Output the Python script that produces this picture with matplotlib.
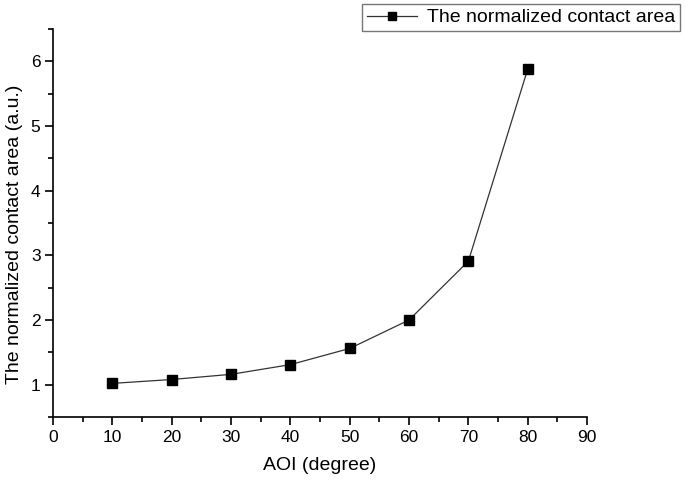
import matplotlib
matplotlib.use("Agg")
import matplotlib.pyplot as plt
from matplotlib.ticker import MultipleLocator

aoi = [10, 20, 30, 40, 50, 60, 70, 80]
area = [1.02, 1.08, 1.16, 1.31, 1.56, 2.00, 2.91, 5.88]

plt.rcParams["font.family"] = ["Liberation Sans", "DejaVu Sans"]

fig = plt.figure(figsize=(6.85, 4.87), dpi=100)
ax = fig.add_axes([0.0774, 0.1437, 0.7796, 0.7968])

ax.plot(aoi, area, color="#333333", linewidth=0.9, marker="s",
        markersize=7, markerfacecolor="black", markeredgecolor="black",
        label="The normalized contact area")

ax.set_xlim(0, 90)
ax.set_ylim(0.5, 6.5)
ax.xaxis.set_major_locator(MultipleLocator(10))
ax.xaxis.set_minor_locator(MultipleLocator(5))
ax.yaxis.set_major_locator(MultipleLocator(1))
ax.yaxis.set_minor_locator(MultipleLocator(0.5))

for side in ("top", "right"):
    ax.spines[side].set_visible(False)
for side in ("left", "bottom"):
    ax.spines[side].set_linewidth(1.2)

ax.tick_params(which="major", direction="out", length=6, width=1.2,
               labelsize=12.5, pad=3)
ax.tick_params(which="minor", direction="out", length=3.5, width=1.2)

ax.set_xlabel("AOI (degree)", fontsize=14)
ax.xaxis.set_label_coords(0.5, -0.125)
ax.xaxis.label.set_verticalalignment("center")
ax.set_ylabel("The normalized contact area (a.u.)", fontsize=14)
ax.yaxis.set_label_coords(-0.072, 0.47)
ax.yaxis.label.set_verticalalignment("center")

leg = ax.legend(loc="upper right", bbox_to_anchor=(0.993, 0.992),
                bbox_transform=fig.transFigure, fontsize=14, frameon=True,
                fancybox=False, borderpad=0.25, handlelength=2.6,
                handletextpad=0.5, borderaxespad=0, markerscale=0.75)
leg.get_frame().set_edgecolor("#555555")
leg.get_frame().set_linewidth(1.0)

fig.savefig("out.png", dpi=100)
plt.close(fig)
